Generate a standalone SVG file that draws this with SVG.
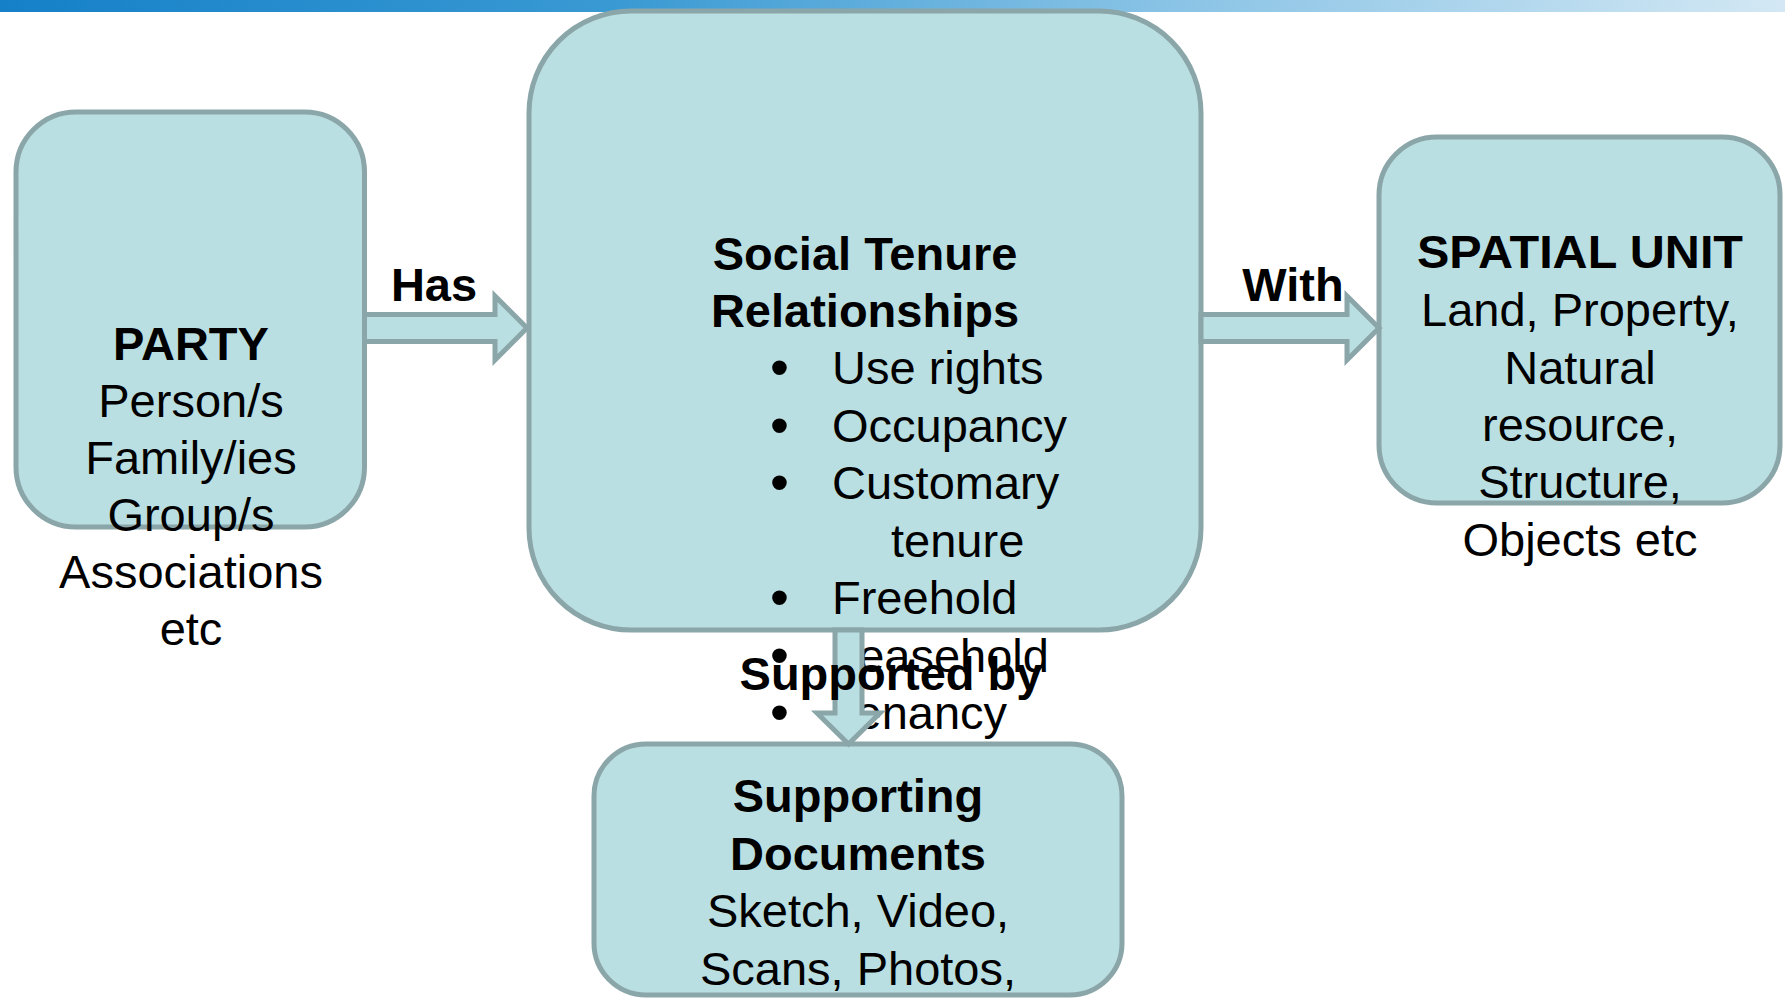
<svg xmlns="http://www.w3.org/2000/svg" width="1785" height="998" viewBox="0 0 1785 998">
<defs>
<linearGradient id="bar" x1="0" y1="0" x2="1" y2="0">
<stop offset="0" stop-color="#1580c8"/>
<stop offset="0.35" stop-color="#3a9ad3"/>
<stop offset="0.6" stop-color="#7dbde3"/>
<stop offset="1" stop-color="#d3e8f4"/>
</linearGradient>
</defs>
<style>
.box{fill:#badfe2;stroke:#8ba6a9;stroke-width:5}
.arr{fill:#badfe2;stroke:#8ba6a9;stroke-width:5;stroke-linejoin:miter}
text{font-family:"Liberation Sans",Arial,sans-serif;font-size:47px;fill:#000}
.b{font-weight:bold}
.c{text-anchor:middle}
.dot{font-size:54px}
</style>
<rect x="0" y="0" width="1785" height="12" fill="url(#bar)"/>
<g id="party">
<rect class="box" x="16" y="112" width="348.5" height="415" rx="60"/>
<text class="c b" x="191" y="360">PARTY</text>
<text class="c" x="191" y="417">Person/s</text>
<text class="c" x="191" y="474">Family/ies</text>
<text class="c" x="191" y="531">Group/s</text>
<text class="c" x="191" y="588">Associations</text>
<text class="c" x="191" y="645">etc</text>
</g>
<g id="str">
<rect class="box" x="529" y="11" width="672" height="619" rx="102"/>
<text class="c b" x="865" y="270">Social Tenure</text>
<text class="c b" x="865" y="327">Relationships</text>
<text class="dot" x="770" y="386">•</text><text x="832" y="384">Use rights</text>
<text class="dot" x="770" y="443.5">•</text><text x="832" y="441.5">Occupancy</text>
<text class="dot" x="770" y="501">•</text><text x="832" y="499">Customary</text>
<text x="891" y="556.5">tenure</text>
<text class="dot" x="770" y="616">•</text><text x="832" y="614">Freehold</text>
<text class="dot" x="770" y="673.5">•</text><text x="832" y="671.5">Leasehold</text>
<text class="dot" x="770" y="731">•</text><text x="832" y="729">Tenancy</text>
</g>
<g id="spatial">
<rect class="box" x="1379" y="137" width="401" height="366" rx="58"/>
<text class="b" x="1417" y="268" textLength="326" lengthAdjust="spacingAndGlyphs">SPATIAL UNIT</text>
<text class="c" x="1580" y="326">Land, Property,</text>
<text class="c" x="1580" y="384">Natural</text>
<text class="c" x="1580" y="441">resource,</text>
<text class="c" x="1580" y="498">Structure,</text>
<text class="c" x="1580" y="556">Objects etc</text>
</g>
<g id="docs">
<rect class="box" x="594" y="744" width="528" height="251" rx="52"/>
<text class="c b" x="858" y="812">Supporting</text>
<text class="c b" x="858" y="870">Documents</text>
<text class="c" x="858" y="927">Sketch, Video,</text>
<text class="c" x="858" y="985">Scans, Photos,</text>
</g>
<g id="connectors">
<polygon class="arr" points="364.5,314.5 495,314.5 495,296 527,328 495,360 495,341.5 364.5,341.5"/>
<text class="c b" x="434" y="301">Has</text>
<polygon class="arr" points="1201,314.5 1347,314.5 1347,296 1379,328 1347,360 1347,341.5 1201,341.5"/>
<text class="c b" x="1293" y="301">With</text>
<polygon class="arr" points="835,630 862,630 862,713 880,713 848.5,744 817,713 835,713"/>
<text class="c b" x="891" y="690">Supported by</text>
</g>
</svg>
